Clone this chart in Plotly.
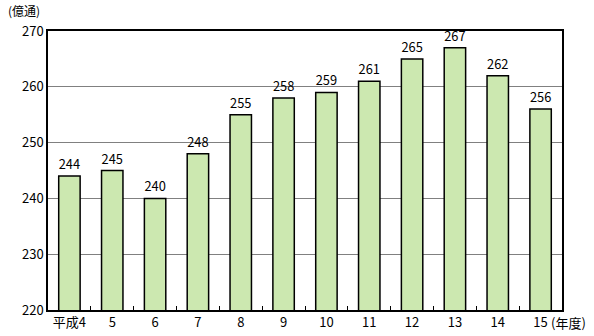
import plotly.graph_objects as go

categories = ["平成4", "5", "6", "7", "8", "9", "10", "11", "12", "13", "14", "15"]
values = [244, 245, 240, 248, 255, 258, 259, 261, 265, 267, 262, 256]
y_ticks = [220, 230, 240, 250, 260, 270]

FONT = "Noto Sans CJK JP"

fig = go.Figure()
fig.add_trace(go.Bar(
    x=categories, y=values, width=0.5,
    marker=dict(color="#cce8b0", line=dict(color="#000000", width=1.5)),
    text=[str(v) for v in values], textposition="outside",
    textfont=dict(family=FONT, size=13, color="#000000"),
    cliponaxis=False,
))

fig.update_layout(
    width=594, height=336,
    margin=dict(l=48, r=32, t=31, b=26),
    paper_bgcolor="white", plot_bgcolor="white",
    showlegend=False,
    bargap=0.5,
    font=dict(family=FONT, size=13, color="#000000"),
)
fig.update_xaxes(
    type="category", showline=True, linecolor="#000000", linewidth=1.5, mirror=True,
    ticks="inside", tickson="boundaries", ticklen=4, tickcolor="#000000", tickwidth=1,
    showgrid=False, tickfont=dict(family=FONT, size=13), automargin=False,
)
fig.update_yaxes(
    range=[220, 270], tickvals=y_ticks, showline=True, linecolor="#000000", linewidth=1.5,
    mirror=True, showgrid=True, gridcolor="#808080", gridwidth=1, ticks="",
    tickfont=dict(family=FONT, size=13), zeroline=False, automargin=False,
)
fig.add_annotation(text="(億通)", xref="paper", yref="paper", x=-0.082, y=1.0,
                   yshift=10, xanchor="left", yanchor="bottom", showarrow=False,
                   font=dict(family=FONT, size=12))
fig.add_annotation(text="(年度)", xref="paper", yref="paper", x=0.975, y=0,
                   yshift=-1, xanchor="left", yanchor="top", showarrow=False,
                   font=dict(family=FONT, size=13))

fig.write_html("out.html")
